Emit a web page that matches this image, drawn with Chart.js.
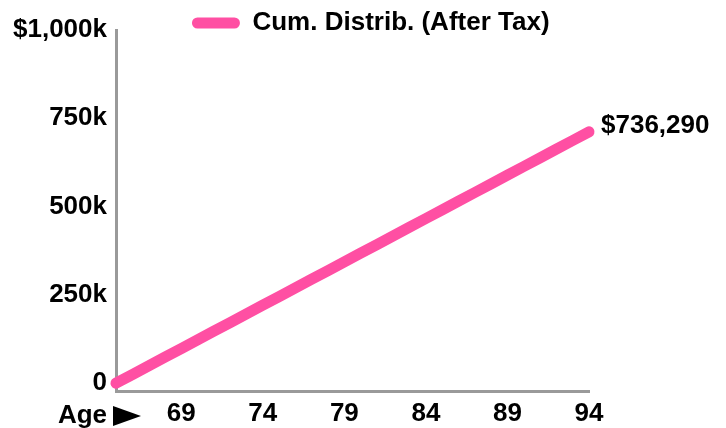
<!DOCTYPE html>
<html>
<head>
<meta charset="utf-8">
<script src="https://cdn.jsdelivr.net/npm/chart.js@4.4.1/dist/chart.umd.min.js"></script>
<style>
  body { margin: 0; background: #fff; }
  #wrap { width: 726px; height: 428px; }
</style>
</head>
<body>
<div id="wrap"><canvas id="distChart"></canvas></div>
<script>
// chart data
const ages = [65, 66, 67, 68, 69, 70, 71, 72, 73, 74, 75, 76, 77, 78, 79,
  80, 81, 82, 83, 84, 85, 86, 87, 88, 89, 90, 91, 92, 93, 94];
const cumAfterTax = [0, 24543, 49086, 73629, 98172, 122715, 147258, 171801,
  196344, 220887, 245430, 269973, 294516, 319059, 343602, 368145, 392688,
  417231, 441774, 466317, 490860, 515403, 539946, 564489, 589032, 613575,
  638118, 662661, 687204, 711747];
const xTickAges = [69, 74, 79, 84, 89, 94];
const yTickValues = [0, 250000, 500000, 750000, 1000000];
const yTickLabels = ["0", "250k", "500k", "750k", "$1,000k"];
const seriesLabel = "Cum. Distrib. (After Tax)";
const finalTotal = 736290;

const pink = "#ff4fa3";
const axisGray = "#9a9a9a";
const fontFamily = '"Liberation Sans", Arial, Helvetica, sans-serif';

// end label, "Age" marker and legend drawn on top
const extras = {
  id: "extras",
  afterDraw(chart) {
    const ctx = chart.ctx;
    const xScale = chart.scales.x;
    const meta = chart.getDatasetMeta(0);
    const last = meta.data[meta.data.length - 1];

    ctx.save();
    ctx.fillStyle = "#000";
    ctx.font = "bold 26px " + fontFamily;
    ctx.textBaseline = "middle";

    ctx.textAlign = "left";
    ctx.fillText("$" + finalTotal.toLocaleString("en-US"), last.x + 12, last.y - 6);

    const x0 = xScale.getPixelForValue(0);
    const yLab = xScale.top + 25;
    ctx.textAlign = "right";
    ctx.fillText("Age", x0 - 9, yLab);
    ctx.beginPath();
    ctx.moveTo(x0 - 3, yLab - 10);
    ctx.lineTo(x0 + 25, yLab);
    ctx.lineTo(x0 - 3, yLab + 10);
    ctx.closePath();
    ctx.fill();

    // legend
    const textW = ctx.measureText(seriesLabel).width;
    const total = 60 + textW;
    const left = chart.width / 2 + 8 - total / 2;
    const ly = 23;
    ctx.strokeStyle = pink;
    ctx.lineWidth = 11;
    ctx.lineCap = "round";
    ctx.beginPath();
    ctx.moveTo(left + 5, ly);
    ctx.lineTo(left + 42, ly);
    ctx.stroke();
    ctx.textAlign = "left";
    ctx.fillText(seriesLabel, left + 60, ly);
    ctx.restore();
  },
};

const ctx = document.getElementById("distChart").getContext("2d");
const distChart = new Chart(ctx, {
  type: "line",
  data: {
    labels: ages,
    datasets: [
      {
        label: seriesLabel,
        data: cumAfterTax,
        borderColor: pink,
        backgroundColor: pink,
        borderWidth: 11,
        borderCapStyle: "round",
        borderJoinStyle: "round",
        pointRadius: 0,
        tension: 0,
        clip: false,
      },
    ],
  },
  options: {
    responsive: true,
    maintainAspectRatio: false,
    animation: false,
    layout: {
      padding: { top: 30, right: 137, left: 10, bottom: 0 },
    },
    plugins: {
      legend: { display: false },
      tooltip: { enabled: false },
    },
    scales: {
      x: {
        type: "category",
        offset: false,
        grid: { display: false, drawTicks: false },
        border: { display: true, color: axisGray, width: 3 },
        afterFit: function (scale) {
          scale.height = 37;
        },
        ticks: {
          autoSkip: false,
          maxRotation: 0,
          padding: 7,
          color: "#000",
          font: { family: fontFamily, size: 26, weight: "bold" },
          callback: function (value, index) {
            const age = ages[index];
            return xTickAges.includes(age) ? String(age) : "";
          },
        },
      },
      y: {
        min: -22000,
        max: 1000000,
        grid: { display: false, drawTicks: false },
        border: { display: true, color: axisGray, width: 3 },
        afterBuildTicks: function (scale) {
          scale.ticks = yTickValues.map((v) => ({ value: v }));
        },
        afterFit: function (scale) {
          scale.width = 106;
        },
        ticks: {
          padding: 9,
          color: "#000",
          font: { family: fontFamily, size: 26, weight: "bold" },
          callback: function (value) {
            const i = yTickValues.indexOf(value);
            return i >= 0 ? yTickLabels[i] : "";
          },
        },
      },
    },
  },
  plugins: [extras],
});
</script>
</body>
</html>
